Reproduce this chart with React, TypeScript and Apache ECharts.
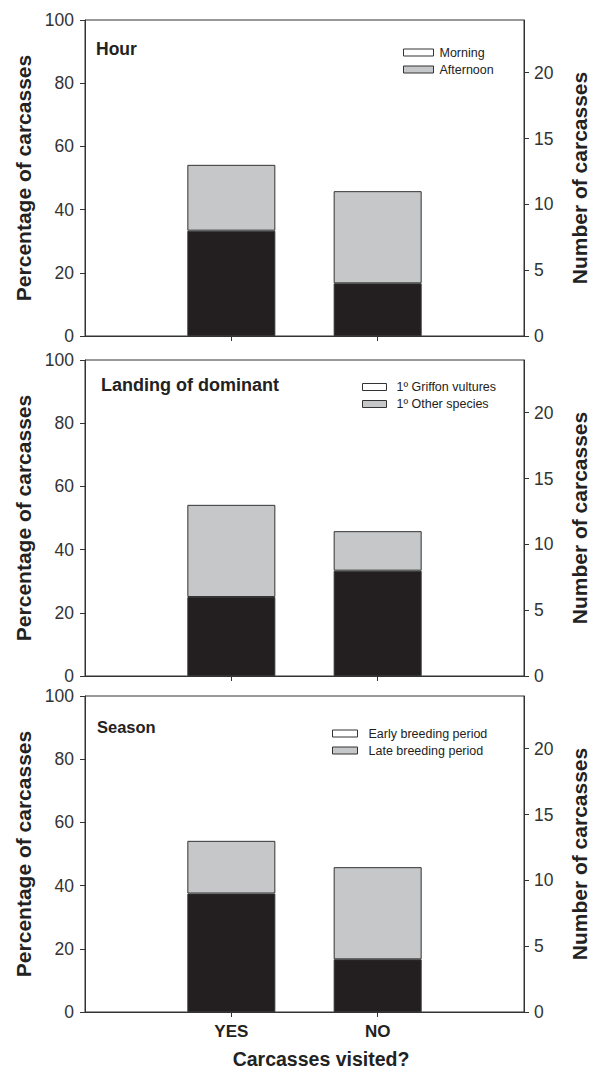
import React, { useEffect, useRef } from "react";
import * as echarts from "echarts";

// ---- data (counts of carcasses; 24 carcasses = 100 %) ----
const categories = ["", "YES", "NO", ""];
const panelTitles = ["Hour", "Landing of dominant", "Season"];
const legendNames = [
  ["Morning", "Afternoon"],
  ["1º Griffon vultures", "1º Other species"],
  ["Early breeding period", "Late breeding period"],
];
const hourMorning = ["-", 8, 4, "-"];
const hourAfternoon = ["-", 5, 7, "-"];
const landingGriffon = ["-", 6, 8, "-"];
const landingOther = ["-", 7, 3, "-"];
const seasonEarly = ["-", 9, 4, "-"];
const seasonLate = ["-", 4, 7, "-"];
const bottomValues = [hourMorning, landingGriffon, seasonEarly];
const topValues = [hourAfternoon, landingOther, seasonLate];
const pctTicks = [0, 20, 40, 60, 80, 100];
const countTicks = [0, 5, 10, 15, 20];
const totalCarcasses = 24;

const FONT = "'Liberation Sans', Arial, Helvetica, sans-serif";
const AXIS = "#333";
const TXT = "#222";
const BLACK = "#231f20";
const GREY = "#c6c7c8";

export default function App() {
  const ref = useRef<HTMLDivElement>(null);
  useEffect(() => {
    document.body.style.margin = "0";
    const chart = echarts.init(ref.current!, null, { renderer: "svg" });
    const gridTops = [20, 360, 696];
    const gridH = 316;
    const titlePos = [
      { x: 96, y: 40, size: 17.5 },
      { x: 101, y: 375.5, size: 18 },
      { x: 97, y: 718.5, size: 16.5 },
    ];
    const legendPos = [
      { left: 403, top: 46, w: 30, gap: 6 },
      { left: 362, top: 380.5, w: 24, gap: 10 },
      { left: 332, top: 727, w: 25, gap: 11 },
    ];

    const grid: any[] = [];
    const xAxis: any[] = [];
    const yAxis: any[] = [];
    const series: any[] = [];
    const legend: any[] = [];
    const graphic: any[] = [];

    for (let p = 0; p < 3; p++) {
      grid.push({
        left: 85,
        right: 72,
        top: gridTops[p],
        height: gridH,
        show: true,
        borderColor: AXIS,
        borderWidth: 1,
        backgroundColor: "transparent",
      });
      xAxis.push({
        type: "category",
        gridIndex: p,
        data: categories,
        boundaryGap: false,
        axisLine: { lineStyle: { color: AXIS, width: 1 } },
        axisTick: {
          show: true,
          inside: false,
          length: 5,
          interval: (i: number) => i === 1 || i === 2,
          lineStyle: { color: AXIS },
        },
        axisLabel: {
          show: p === 2,
          interval: 0,
          margin: 11,
          fontFamily: FONT,
          fontSize: 17,
          fontWeight: "bold",
          color: TXT,
        },
        splitLine: { show: false },
      });
      yAxis.push({
        type: "value",
        gridIndex: p,
        position: "left",
        min: 0,
        max: 100,
        interval: 20,
        name: "Percentage of carcasses",
        nameLocation: "middle",
        nameGap: 49,
        nameTextStyle: { fontFamily: FONT, fontSize: 21, fontWeight: "bold", color: TXT },
        axisLine: { show: true, lineStyle: { color: AXIS, width: 1 } },
        axisTick: { show: true, inside: false, length: 5, lineStyle: { color: AXIS } },
        axisLabel: {
          margin: 11,
          fontFamily: FONT,
          fontSize: 17.5,
          color: "#333",
          customValues: pctTicks,
        },
        splitLine: { show: false },
      });
      yAxis.push({
        type: "value",
        gridIndex: p,
        position: "right",
        min: 0,
        max: totalCarcasses,
        name: "Number of carcasses",
        nameLocation: "middle",
        nameGap: 45,
        nameTextStyle: { fontFamily: FONT, fontSize: 21, fontWeight: "bold", color: TXT },
        axisLine: { show: true, lineStyle: { color: AXIS, width: 1 } },
        axisTick: {
          show: true,
          inside: false,
          length: 5,
          lineStyle: { color: AXIS },
          customValues: countTicks,
        },
        axisLabel: {
          margin: 10,
          fontFamily: FONT,
          fontSize: 17.5,
          color: "#333",
          customValues: countTicks,
        },
        splitLine: { show: false },
      });
      const [nBottom, nTop] = legendNames[p];
      series.push({
        name: nBottom,
        type: "bar",
        xAxisIndex: p,
        yAxisIndex: p * 2 + 1,
        stack: "s" + p,
        barWidth: 88,
        data: bottomValues[p],
        itemStyle: { color: BLACK, borderColor: AXIS, borderWidth: 1 },
      });
      series.push({
        name: nTop,
        type: "bar",
        xAxisIndex: p,
        yAxisIndex: p * 2 + 1,
        stack: "s" + p,
        barWidth: 88,
        data: topValues[p],
        itemStyle: { color: GREY, borderColor: AXIS, borderWidth: 1 },
      });
      const lp = legendPos[p];
      legend.push({
        orient: "vertical",
        left: lp.left,
        top: lp.top,
        padding: 0,
        itemWidth: lp.w,
        itemHeight: 7,
        itemGap: 4,
        selectedMode: false,
        icon: "rect",
        textStyle: {
          fontFamily: FONT,
          fontSize: 12.5,
          lineHeight: 13,
          color: TXT,
          padding: [0, 0, 0, lp.gap - 5],
        },
        data: [
          { name: nBottom, itemStyle: { color: "#fff", borderColor: AXIS, borderWidth: 1 } },
          { name: nTop, itemStyle: { color: GREY, borderColor: AXIS, borderWidth: 1 } },
        ],
      });
      const tp = titlePos[p];
      graphic.push({
        type: "text",
        left: tp.x,
        top: tp.y,
        style: {
          text: panelTitles[p],
          fontFamily: FONT,
          fontSize: tp.size,
          fontWeight: "bold",
          fill: TXT,
        },
      });
    }
    graphic.push({
      type: "text",
      x: 321,
      y: 1058.5,
      style: {
        text: "Carcasses visited?",
        fontFamily: FONT,
        fontSize: 19.5,
        fontWeight: "bold",
        fill: TXT,
        align: "center",
        verticalAlign: "middle",
      },
    });

    chart.setOption({
      animation: false,
      backgroundColor: "#fff",
      grid,
      xAxis,
      yAxis,
      series,
      legend,
      graphic,
    });
    return () => chart.dispose();
  }, []);
  return <div ref={ref} style={{ width: 598, height: 1070 }} />;
}
